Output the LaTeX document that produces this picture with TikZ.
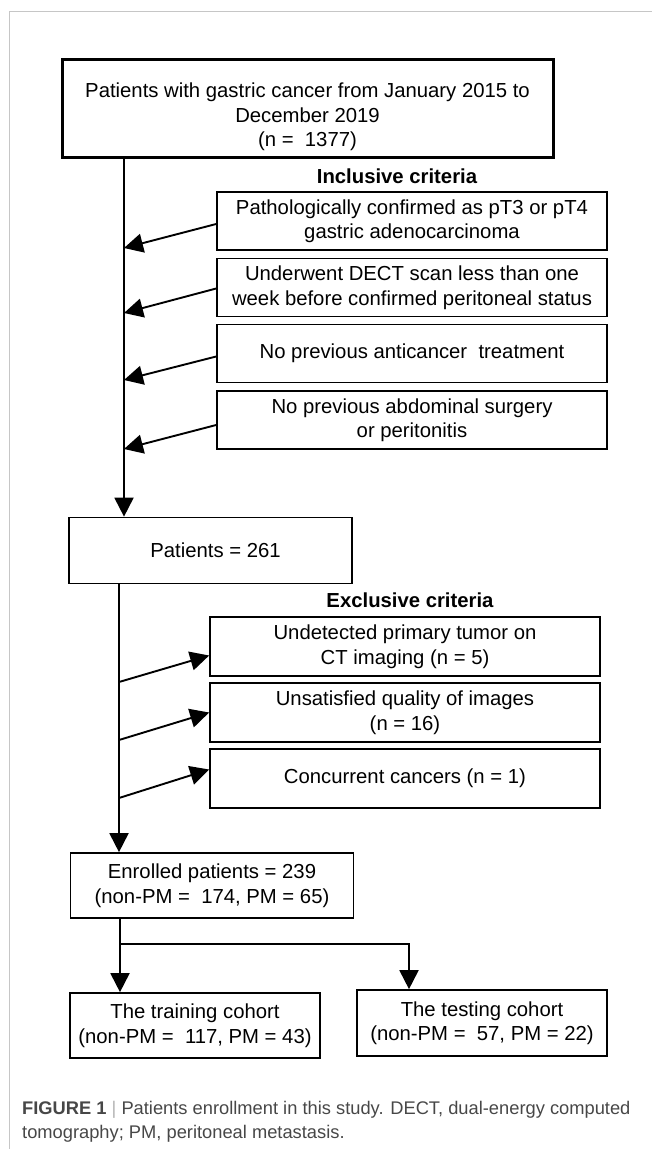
\documentclass[tikz,border=0pt]{standalone}
\usepackage{fontspec}
\setmainfont{Liberation Sans}
\usetikzlibrary{arrows.meta, positioning}
\newcommand{\diagfont}{\fontsize{20.3}{24.5}\selectfont}
\newcommand{\capfont}{\fontsize{18.3}{23.5}\selectfont}
\tikzset{
    box/.style={draw, line width=1.7pt, align=center, inner sep=0pt, font=\diagfont},
    incbox/.style={box, minimum width=390pt, minimum height=58pt},
    excbox/.style={box, minimum width=390pt, minimum height=59pt},
    headlab/.style={anchor=base, inner sep=0pt, font=\diagfont\bfseries},
    link/.style={line width=1.9pt},
    arr/.style={link, -{Triangle[length=19pt,width=19pt]}}
}
\begin{document}
\begin{tikzpicture}[x=1pt, y=-1pt]
    \useasboundingbox (0,0) rectangle (652,1149);
    % panel frame
    \draw[gray!45, line width=0.9pt] (9,1149) -- (9,11) -- (652,11);
    % boxes
    \node[box, line width=3pt, minimum width=491pt, minimum height=98pt] (src) at (307.5,108)
        {\rule{0pt}{33pt}Patients with gastric cancer from January 2015 to\\December 2019\\(n = \ 1377)};
    \node[headlab] (inclab) at (397,183) {Inclusive criteria};
    \node[incbox] (inc1) at (412,221) {Pathologically confirmed as pT3 or pT4\\gastric adenocarcinoma};
    \node[incbox] (inc2) at (412,287.5) {Underwent DECT scan less than one\\week before confirmed peritoneal status};
    \node[incbox] (inc3) at (412,353.5) {No previous anticancer \ treatment};
    \node[incbox] (inc4) at (412,420) {No previous abdominal surgery\\or peritonitis};
    \node[box, minimum width=283pt, minimum height=66pt] (pat) at (210.5,550.5) {\hspace{10pt}Patients = 261};
    \node[headlab] (exclab) at (410,607) {Exclusive criteria};
    \node[excbox] (exc1) at (405,646.5) {Undetected primary tumor on\\CT imaging (n = 5)};
    \node[excbox] (exc2) at (405,712.5) {Unsatisfied quality of images\\(n = 16)};
    \node[excbox] (exc3) at (405,778.5) {Concurrent cancers (n = 1)};
    \node[box, minimum width=283pt, minimum height=65pt] (enr) at (212,885.5)
        {Enrolled patients = 239\\(non-PM = \ 174, PM = 65)};
    \node[box, minimum width=250pt, minimum height=65pt] (train) at (195,1025.5)
        {The training cohort\\(non-PM = \ 117, PM = 43)};
    \node[box, minimum width=250pt, minimum height=66pt] (test) at (482,1023)
        {The testing cohort\\(non-PM = \ 57, PM = 22)};
    % inclusive part
    \coordinate (ta) at (124,0);
    \draw[arr] (src.south -| ta) -- (pat.north -| ta);
    \foreach \i/\y/\d in {1/248/-3, 2/313/-1, 3/380/-3, 4/449/-5}{
        \coordinate (in\i) at (124,\y);
        \draw[arr] ([yshift=\d pt]inc\i.west) -- (in\i);
    }
    % exclusive part
    \coordinate (tb) at (119,0);
    \draw[arr] (pat.south -| tb) -- (enr.north -| tb);
    \foreach \i/\y/\d in {1/682/-9, 2/740/0, 3/798/9}{
        \coordinate (ex\i) at (119,\y);
        \draw[arr] (ex\i) -- ([yshift=\d pt]exc\i.west);
    }
    % split into cohorts
    \coordinate (split) at (120,944);
    \coordinate (tc) at (409,0);
    \draw[link] (enr.south -| split) -- (split);
    \draw[arr] (split) -- (train.north -| split);
    \draw[arr] (split) -| (test.north -| tc);
    % caption
    \node[anchor=base west, align=left, inner sep=0pt, font=\capfont, text=black!72] (cap) at (22,1138)
        {\textbf{FIGURE 1} {\color{black!30}|} Patients enrollment in this study. DECT, dual-energy computed\\
         tomography; PM, peritoneal metastasis.};
\end{tikzpicture}
\end{document}
